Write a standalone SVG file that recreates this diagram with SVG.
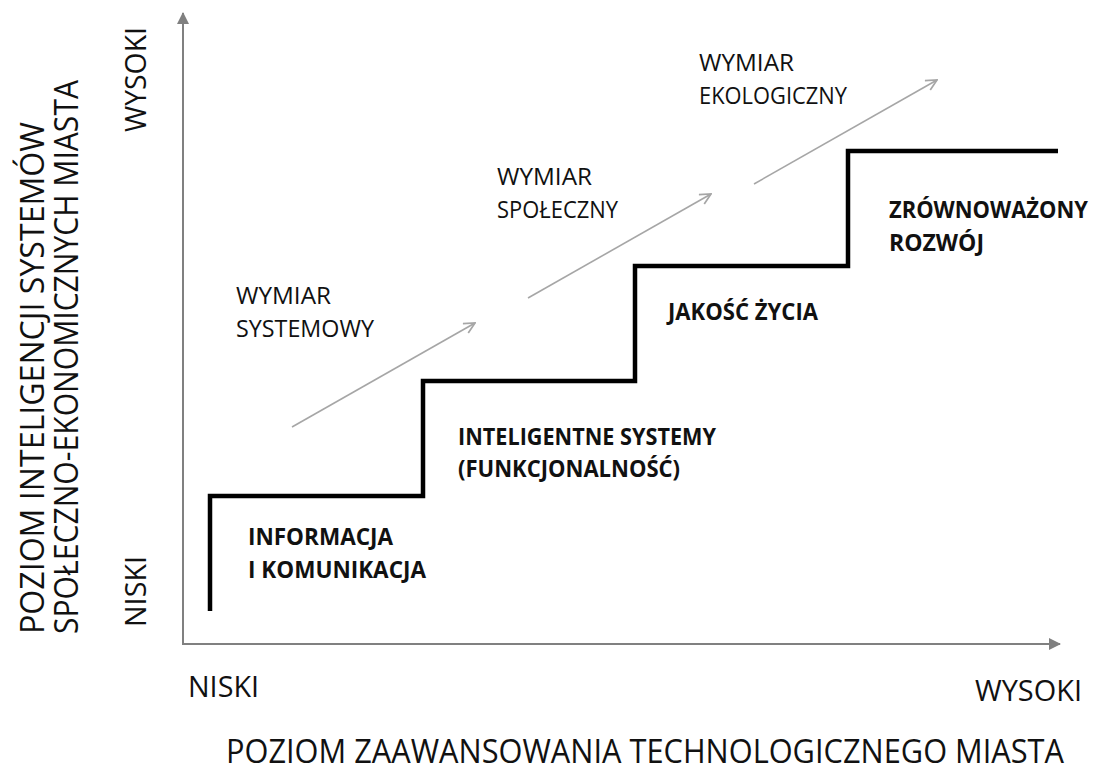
<svg xmlns="http://www.w3.org/2000/svg" width="1100" height="772" viewBox="0 0 1100 772">
  <style>
    text { font-family: "Open Sans", "Liberation Sans", sans-serif; fill: #111; }
    .dim { font-size: 24px; }
    .stage { font-size: 24px; font-weight: bold; }
    .axl { font-size: 30px; }
    .ttl { font-size: 32px; }
    .axis { stroke: #808080; stroke-width: 2; fill: none; }
    .dir { stroke: #a6a6a6; stroke-width: 1.6; fill: none; }
    .step { stroke: #000; stroke-width: 4.5; fill: none; stroke-linejoin: miter; }
  </style>
  <defs>
    <marker id="axhead" viewBox="0 0 12 12" refX="11" refY="6" markerWidth="12" markerHeight="12" markerUnits="userSpaceOnUse" orient="auto">
      <path d="M0,0 L12,6 L0,12 Z" fill="#808080"/>
    </marker>
    <marker id="openhead" viewBox="0 0 12 12" refX="11" refY="6" markerWidth="13" markerHeight="13" markerUnits="userSpaceOnUse" orient="auto">
      <path d="M1,1 L11,6 L1,11" fill="none" stroke="#a6a6a6" stroke-width="1.6"/>
    </marker>
  </defs>

  <rect width="1100" height="772" fill="#fff"/>

  <g id="axes">
    <line class="axis" x1="183" y1="645" x2="183" y2="13" marker-end="url(#axhead)"/>
    <line class="axis" x1="182" y1="644" x2="1060" y2="644" marker-end="url(#axhead)"/>
  </g>

  <g id="connectors">
    <path id="staircase" class="step" d="M210,611 V496 H423 V381 H635 V266 H848 V151 H1058"/>
    <line class="dir" x1="292" y1="427" x2="475" y2="323" marker-end="url(#openhead)"/>
    <line class="dir" x1="528" y1="298" x2="711" y2="194" marker-end="url(#openhead)"/>
    <line class="dir" x1="754" y1="184" x2="937" y2="80" marker-end="url(#openhead)"/>
  </g>

  <g id="dim-systemowy">
    <text class="dim" x="236" y="304" textLength="95" lengthAdjust="spacingAndGlyphs">WYMIAR</text>
    <text class="dim" x="236" y="337" textLength="138" lengthAdjust="spacingAndGlyphs">SYSTEMOWY</text>
  </g>
  <g id="dim-spoleczny">
    <text class="dim" x="497" y="185" textLength="95" lengthAdjust="spacingAndGlyphs">WYMIAR</text>
    <text class="dim" x="497" y="218" textLength="121" lengthAdjust="spacingAndGlyphs">SPOŁECZNY</text>
  </g>
  <g id="dim-ekologiczny">
    <text class="dim" x="699" y="71" textLength="95" lengthAdjust="spacingAndGlyphs">WYMIAR</text>
    <text class="dim" x="699" y="104" textLength="148" lengthAdjust="spacingAndGlyphs">EKOLOGICZNY</text>
  </g>

  <g id="stage-informacja">
    <text class="stage" x="248" y="545" textLength="145" lengthAdjust="spacingAndGlyphs">INFORMACJA</text>
    <text class="stage" x="248" y="578" textLength="178" lengthAdjust="spacingAndGlyphs">I KOMUNIKACJA</text>
  </g>
  <g id="stage-systemy">
    <text class="stage" x="458" y="445" textLength="258" lengthAdjust="spacingAndGlyphs">INTELIGENTNE SYSTEMY</text>
    <text class="stage" x="458" y="477" textLength="222" lengthAdjust="spacingAndGlyphs">(FUNKCJONALNOŚĆ)</text>
  </g>
  <g id="stage-jakosc">
    <text class="stage" x="668" y="320" textLength="150" lengthAdjust="spacingAndGlyphs">JAKOŚĆ ŻYCIA</text>
  </g>
  <g id="stage-rozwoj">
    <text class="stage" x="889" y="218" font-size="20" textLength="199" lengthAdjust="spacingAndGlyphs">ZRÓWNOWAŻONY</text>
    <text class="stage" x="889" y="251" textLength="95" lengthAdjust="spacingAndGlyphs">ROZWÓJ</text>
  </g>

  <g id="x-axis-labels">
    <text class="axl" x="188" y="697" textLength="71" lengthAdjust="spacingAndGlyphs">NISKI</text>
    <text class="axl" x="975" y="701" textLength="107" lengthAdjust="spacingAndGlyphs">WYSOKI</text>
    <text class="ttl" x="226" y="763" textLength="838" lengthAdjust="spacingAndGlyphs">POZIOM ZAAWANSOWANIA TECHNOLOGICZNEGO MIASTA</text>
  </g>

  <g id="y-axis-labels">
    <text class="axl" transform="translate(146,627) rotate(-90)" textLength="71" lengthAdjust="spacingAndGlyphs">NISKI</text>
    <text class="axl" transform="translate(146,132) rotate(-90)" textLength="105" lengthAdjust="spacingAndGlyphs">WYSOKI</text>
    <text class="ttl" transform="translate(44,634) rotate(-90)" textLength="512" lengthAdjust="spacingAndGlyphs">POZIOM INTELIGENCJI SYSTEMÓW</text>
    <text class="ttl" transform="translate(78,634) rotate(-90)" textLength="554" lengthAdjust="spacingAndGlyphs">SPOŁECZNO-EKONOMICZNYCH MIASTA</text>
  </g>
</svg>
